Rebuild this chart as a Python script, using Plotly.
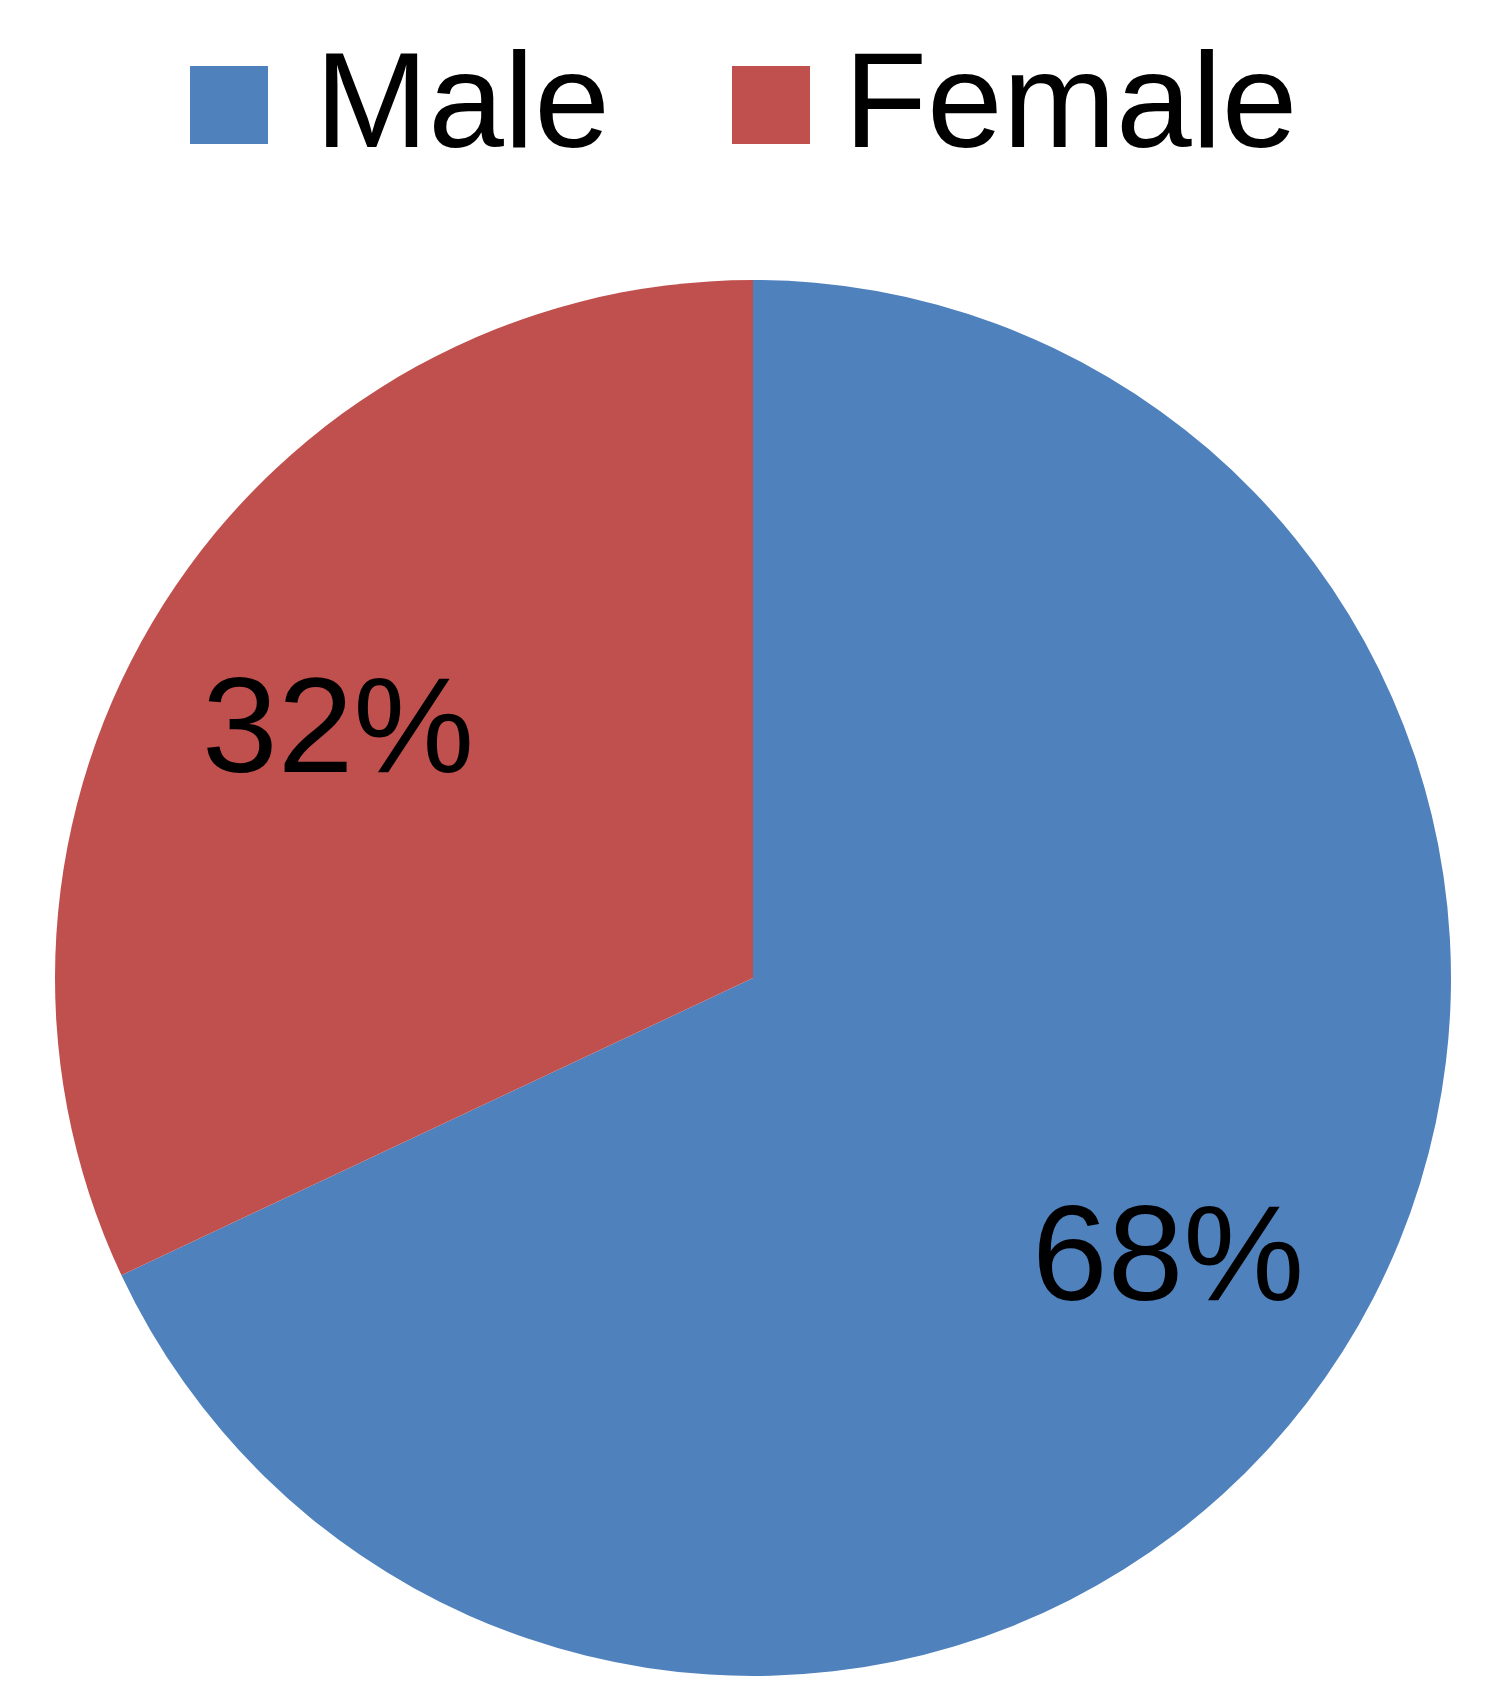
import math
import plotly.graph_objects as go

categories = ["Male", "Female"]
values = [68, 32]
colors = ["#4F81BD", "#C0504D"]

# the page body adds an 8px margin; the figure is sized so it fills the window
W, H = 1492, 1700
FONT = "Liberation Sans, Arial, sans-serif"

CX, CY, R = 745, 970, 698          # pie centre / radius in figure pixels
LABEL_RADIUS = 0.705               # label distance as a fraction of the radius

fig = go.Figure()
fig.add_trace(go.Pie(
    labels=categories,
    values=values,
    marker=dict(colors=colors, line=dict(width=0)),
    sort=False,
    direction="clockwise",
    rotation=0,
    textposition="none",
    domain=dict(x=[0, (2 * CX) / W], y=[1 - (CY + R) / H, 1 - (CY - R) / H]),
    showlegend=False,
    hoverinfo="label+percent",
))

shapes = []
annotations = []

# percentage labels placed at each slice's mid-angle
total = sum(values)
cum = 0.0
for v in values:
    mid = (cum + v / 2) / total * 2 * math.pi
    cum += v
    px = CX + LABEL_RADIUS * R * math.sin(mid)
    py = CY - LABEL_RADIUS * R * math.cos(mid)
    annotations.append(dict(text=f"{v / total:.0%}", xref="paper", yref="paper",
                            x=px / W, y=1 - py / H, xanchor="center", yanchor="middle",
                            yshift=-11, showarrow=False,
                            font=dict(family=FONT, size=136, color="black")))

# legend (drawn manually to match the large square keys)
legend_sq_x = [182, 724]
legend_txt_x = [305, 834]
for cat, col, sx, tx in zip(categories, colors, legend_sq_x, legend_txt_x):
    shapes.append(dict(type="rect", xref="paper", yref="paper",
                       x0=sx / W, x1=(sx + 78) / W,
                       y0=1 - 136 / H, y1=1 - 58 / H,
                       fillcolor=col, line=dict(width=0)))
    annotations.append(dict(text=cat, xref="paper", yref="paper",
                            x=tx / W, y=1 - 92 / H, xanchor="left", yanchor="middle",
                            showarrow=False,
                            font=dict(family=FONT, size=136, color="black")))

# dotted border line at right edge
shapes.append(dict(type="line", xref="paper", yref="paper",
                   x0=1488 / W, x1=1488 / W, y0=0, y1=1,
                   line=dict(color="#A8A8A8", width=2, dash="dot")))

fig.update_layout(
    width=W, height=H,
    margin=dict(l=0, r=0, t=0, b=0),
    paper_bgcolor="white",
    plot_bgcolor="white",
    shapes=shapes,
    annotations=annotations,
)

fig.write_html("out.html")
